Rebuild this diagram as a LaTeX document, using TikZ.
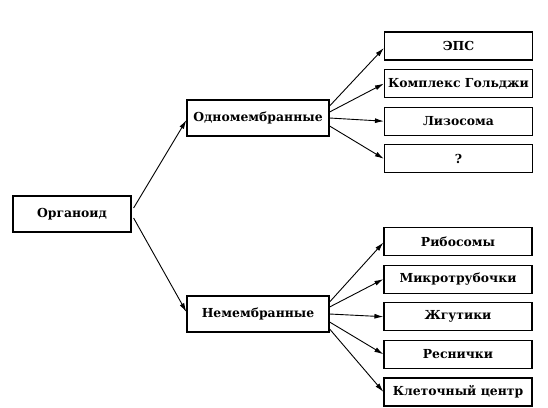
\documentclass[tikz,border=0pt]{standalone}
\usepackage{fontspec}
\setmainfont{DejaVu Serif}
\usetikzlibrary{arrows.meta, positioning}

\begin{document}
\begin{tikzpicture}[
    x=1pt, y=-1pt,
    node distance=8.4pt,
    box/.style={rectangle, draw=black, line width=1.2pt, fill=white,
                minimum height=36pt, inner sep=2pt,
                font=\fontsize{12.4}{14}\selectfont\bfseries},
    leaf/.style={rectangle, draw=black, line width=1.2pt, fill=white,
                 minimum width=148pt, minimum height=28pt, inner sep=2pt,
                 font=\fontsize{12.4}{14}\selectfont\bfseries},
    link/.style={-{Latex[length=9pt,width=5pt]}, line width=0.9pt},
  ]
    \useasboundingbox (0,0) rectangle (548,407);

    \node[box, minimum width=118pt] (org) at (72,214) {Органоид};
    \node[box, minimum width=142pt] (one) at (258,118) {Одномембранные};
    \node[box, minimum width=142pt] (non) at (258,314) {Немембранные};

    % одномембранные
    \node[leaf] (eps) at (458.5,46) {ЭПС};
    \node[leaf, below=of eps] (golgi) {Комплекс Гольджи};
    \node[leaf, below=of golgi] (lyso) {Лизосома};
    \node[leaf, below=of lyso] (quest) {?};

    % немембранные
    \node[leaf] (ribo) at (458,241.5) {Рибосомы};
    \node[leaf, below=of ribo] (micro) {Микротрубочки};
    \node[leaf, below=of micro] (flag) {Жгутики};
    \node[leaf, below=of flag] (cilia) {Реснички};
    \node[leaf, below=of cilia] (centr) {Клеточный центр};

    \draw[link] ([xshift=2pt,yshift=6pt]org.east) -- ([yshift=-2pt]one.west);
    \draw[link] ([xshift=2pt,yshift=-4pt]org.east) -- ([yshift=2pt]non.west);

    \draw[link] ([yshift=12pt]one.east) -- ([yshift=-2pt]eps.west);
    \draw[link] ([yshift=6pt]one.east) -- (golgi.west);
    \draw[link] (one.east) -- (lyso.west);
    \draw[link] ([yshift=-8pt]one.east) -- (quest.west);

    \draw[link] ([yshift=12pt]non.east) -- ([yshift=-1pt]ribo.west);
    \draw[link] ([yshift=7pt]non.east) -- (micro.west);
    \draw[link] (non.east) -- (flag.west);
    \draw[link] ([yshift=-8pt]non.east) -- (cilia.west);
    \draw[link] ([yshift=-15pt]non.east) -- (centr.west);
  \end{tikzpicture}
\end{document}
